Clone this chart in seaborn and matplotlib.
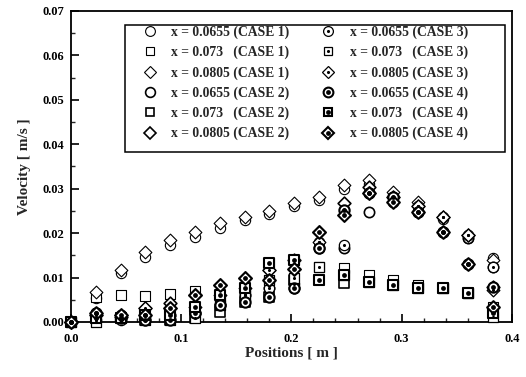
import numpy as np
import pandas as pd
import seaborn as sns
import matplotlib
matplotlib.use("Agg")
import matplotlib.pyplot as plt
from matplotlib.lines import Line2D
from matplotlib.patches import Rectangle
from matplotlib.ticker import MultipleLocator, FormatStrFormatter

# Measurement positions along the channel [m]
positions = [0.0, 0.0225, 0.045, 0.0675, 0.09, 0.1125, 0.135, 0.1575, 0.18,
             0.2025, 0.225, 0.2475, 0.27, 0.2925, 0.315, 0.3375, 0.36, 0.3825]

# Velocity [m/s] per case and section
case1_x0655 = [0, 0.0055, 0.0110, 0.0147, 0.0173, 0.0191, 0.0211, 0.0230, 0.0243,
               0.0260, 0.0275, 0.0300, 0.0310, 0.0285, 0.0265, 0.0232, 0.0190, 0.0144]
case1_x073 = [0, 0.0057, 0.0060, 0.0058, 0.0063, 0.0070, 0.0050, 0.0060, 0.0133,
              0.0140, 0.0124, 0.0122, 0.0106, 0.0095, 0.0083, 0.0077, 0.0065, 0.0034]
case1_x0805 = [0, 0.0068, 0.0117, 0.0158, 0.0185, 0.0203, 0.0222, 0.0236, 0.0250,
               0.0268, 0.0282, 0.0308, 0.0320, 0.0293, 0.0270, 0.0236, 0.0196, 0.0140]
case2_x0655 = [0, 0.0020, 0.0016, 0.0016, 0.0016, 0.0020, 0.0038, 0.0060, 0.0077,
               0.0077, 0.0167, 0.0166, 0.0248, 0.0270, 0.0248, 0.0203, 0.0190, 0.0124]
case2_x073 = [0, 0.0010, 0.0009, 0.0005, 0.0005, 0.0009, 0.0023, 0.0046, 0.0057,
              0.0095, 0.0095, 0.0088, 0.0090, 0.0083, 0.0077, 0.0077, 0.0065, 0.0020]
case2_x0805 = [0, 0.0015, 0.0012, 0.0031, 0.0043, 0.0060, 0.0083, 0.0098, 0.0117,
               0.0140, 0.0203, 0.0268, 0.0304, 0.0282, 0.0260, 0.0236, 0.0196, 0.0079]
case3_x0655 = [0, 0.0005, 0.0005, 0.0005, 0.0016, 0.0020, 0.0038, 0.0060, 0.0077,
               0.0085, 0.0180, 0.0173, 0.0290, 0.0282, 0.0260, 0.0236, 0.0196, 0.0124]
case3_x073 = [0, 0.0000, 0.0009, 0.0005, 0.0005, 0.0009, 0.0038, 0.0060, 0.0095,
              0.0100, 0.0124, 0.0106, 0.0090, 0.0083, 0.0077, 0.0077, 0.0065, 0.0011]
case3_x0805 = [0, 0.0015, 0.0016, 0.0031, 0.0031, 0.0034, 0.0060, 0.0077, 0.0117,
               0.0120, 0.0180, 0.0240, 0.0290, 0.0282, 0.0260, 0.0236, 0.0196, 0.0072]
case4_x0655 = [0, 0.0020, 0.0009, 0.0005, 0.0005, 0.0020, 0.0038, 0.0046, 0.0057,
               0.0077, 0.0167, 0.0252, 0.0290, 0.0282, 0.0248, 0.0203, 0.0130, 0.0079]
case4_x073 = [0, 0.0010, 0.0009, 0.0016, 0.0016, 0.0034, 0.0060, 0.0077, 0.0133,
              0.0140, 0.0095, 0.0106, 0.0090, 0.0083, 0.0077, 0.0077, 0.0065, 0.0020]
case4_x0805 = [0, 0.0020, 0.0016, 0.0016, 0.0031, 0.0060, 0.0083, 0.0098, 0.0095,
               0.0120, 0.0203, 0.0240, 0.0290, 0.0270, 0.0248, 0.0203, 0.0130, 0.0034]

series_labels = [
    "x = 0.0655 (CASE 1)", "x = 0.073   (CASE 1)", "x = 0.0805 (CASE 1)",
    "x = 0.0655 (CASE 2)", "x = 0.073   (CASE 2)", "x = 0.0805 (CASE 2)",
    "x = 0.0655 (CASE 3)", "x = 0.073   (CASE 3)", "x = 0.0805 (CASE 3)",
    "x = 0.0655 (CASE 4)", "x = 0.073   (CASE 4)", "x = 0.0805 (CASE 4)",
]
series_values = [case1_x0655, case1_x073, case1_x0805,
                 case2_x0655, case2_x073, case2_x0805,
                 case3_x0655, case3_x073, case3_x0805,
                 case4_x0655, case4_x073, case4_x0805]

sns.set_theme(style="white")
plt.rcParams["font.family"] = ["Liberation Serif", "DejaVu Serif"]
plt.rcParams["font.weight"] = "bold"

fig = plt.figure(figsize=(5.26, 3.77), dpi=100)
ax = fig.add_axes([0.135, 0.146, 0.838, 0.825])

shapes = ["o", "s", "D"]
sizes = {"o": 55, "s": 45, "D": 42}
# case -> (edge width, inner dot marker, inner dot size)
case_style = {1: (0.8, None, 0), 2: (1.2, None, 0), 3: (0.9, "o", 5), 4: (1.5, "o", 12)}

handles = []
for i, (label, vals) in enumerate(zip(series_labels, series_values)):
    case = i // 3 + 1
    shape = shapes[i % 3]
    lw, inner, isz = case_style[case]
    df = pd.DataFrame({"pos": positions, "vel": vals})
    sns.scatterplot(data=df, x="pos", y="vel", marker=shape, s=sizes[shape],
                    facecolor="white", edgecolor="black", linewidth=lw,
                    ax=ax, zorder=3 + i * 0.01, legend=False, clip_on=False)
    outer = Line2D([], [], linestyle="none", marker=shape,
                   markersize=np.sqrt(sizes[shape]) * 0.95,
                   markerfacecolor="white", markeredgecolor="black",
                   markeredgewidth=lw)
    if inner:
        sns.scatterplot(data=df, x="pos", y="vel", marker=inner, s=isz,
                        color="black", edgecolor="black", linewidth=0,
                        ax=ax, zorder=3.5 + i * 0.01, legend=False, clip_on=False)
        dot = Line2D([], [], linestyle="none", marker=inner,
                     markersize=np.sqrt(isz), color="black", markeredgewidth=0)
        handles.append((outer, dot))
    else:
        handles.append(outer)

ax.set_xlim(0, 0.4)
ax.set_ylim(0, 0.07)
ax.xaxis.set_major_locator(MultipleLocator(0.1))
ax.xaxis.set_minor_locator(MultipleLocator(0.02))
ax.yaxis.set_major_locator(MultipleLocator(0.01))
ax.yaxis.set_minor_locator(MultipleLocator(0.005))
ax.xaxis.set_major_formatter(FormatStrFormatter("%.1f"))
ax.yaxis.set_major_formatter(FormatStrFormatter("%.2f"))
ax.tick_params(axis="both", which="major", direction="in", length=6, width=1.2,
               labelsize=9, colors="black", bottom=True, left=True, pad=5)
ax.tick_params(axis="x", which="major", pad=8)
ax.tick_params(axis="both", which="minor", direction="in", length=3, width=1,
               bottom=True, left=True)
for lab in ax.get_xticklabels() + ax.get_yticklabels():
    lab.set_fontweight("bold")
for sp in ax.spines.values():
    sp.set_color("black")
    sp.set_linewidth(1.3)

ax.set_xlabel("Positions [ m ]", fontsize=11, fontweight="bold", labelpad=1)
ax.set_ylabel("Velocity [ m/s ]", fontsize=11, fontweight="bold", labelpad=8)

# Legend entries without their own frame; a separate box is drawn around them
leg = ax.legend(handles, series_labels, ncol=2, loc="upper left",
                bbox_to_anchor=(0.155, 0.953), frameon=False,
                prop={"weight": "bold", "size": 9.8},
                handletextpad=0.83, columnspacing=2.1, labelspacing=0.5,
                borderpad=0, borderaxespad=0, handlelength=1.5)
ax.add_patch(Rectangle((0.1224, 0.547), 0.862, 0.408, transform=ax.transAxes,
                       facecolor="none", edgecolor="black", linewidth=1.1,
                       zorder=6))

fig.savefig("out.png", dpi=100)
